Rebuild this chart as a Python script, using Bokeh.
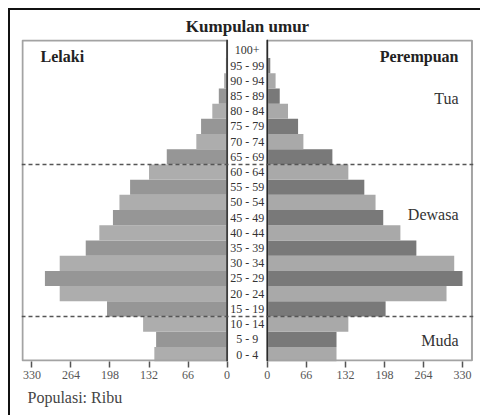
from bokeh.plotting import figure
from bokeh.models import ColumnDataSource, Range1d, FixedTicker, Span, Title
from bokeh.layouts import column
from bokeh.core.properties import value
from bokeh.embed import file_html
from bokeh.resources import INLINE

# ---- data ----
age_groups = ["0 - 4", "5 - 9", "10 - 14", "15 - 19", "20 - 24", "25 - 29", "30 - 34",
              "35 - 39", "40 - 44", "45 - 49", "50 - 54", "55 - 59", "60 - 64", "65 - 69",
              "70 - 74", "75 - 79", "80 - 84", "85 - 89", "90 - 94", "95 - 99", "100+"]
male = [123, 120, 142, 203, 283, 308, 283, 239, 216, 193, 182, 164, 132, 102,
        52, 44, 25, 14, 5, 2, 0.5]
female = [117, 117, 137, 200, 303, 330, 316, 252, 225, 196, 183, 164, 137, 110,
          61, 52, 35, 21, 14, 5, 1]
tick_values = [0, 66, 132, 198, 264, 330]
group_bounds = [2.5, 12.5]   # between 10-14/15-19 and 60-64/65-69
group_names = ["Muda", "Dewasa", "Tua"]
title_text = "Kumpulan umur"
left_name = "Lelaki"
right_name = "Perempuan"
unit_text = "Populasi: Ribu"

SERIF = "Liberation Serif"
H = 34  # half-width of the central label column, in data units

idx = list(range(len(age_groups)))
left_light, left_dark = "#adadad", "#969696"
right_light, right_dark = "#a9a9a9", "#797979"

src_m = ColumnDataSource(dict(
    y=idx, left=[-H - v for v in male], right=[-H] * len(male),
    color=[left_dark if i % 2 else left_light for i in idx]))
src_f = ColumnDataSource(dict(
    y=idx, left=[H] * len(female), right=[H + v for v in female],
    color=[right_dark if i % 2 else right_light for i in idx]))

p = figure(width=470, height=405, output_backend="svg", toolbar_location=None,
           x_range=Range1d(-381.6, 382.6), y_range=Range1d(-0.46, 20.72),
           y_axis_location=None, min_border_left=11, min_border_right=7,
           min_border_top=29, min_border_bottom=54)
p.outline_line_color = None
p.xgrid.visible = False
p.ygrid.visible = False
p.background_fill_color = "white"

p.hbar(y="y", left="left", right="right", height=1.0, color="color",
       line_color=None, source=src_m)
p.hbar(y="y", left="left", right="right", height=1.0, color="color",
       line_color=None, source=src_f)

# panel borders
p.quad(left=[-379.9, H], right=[-H, 380.0], bottom=[-0.395, -0.395], top=[20.66, 20.66],
       fill_color=None, line_color="#a3a3a3", line_width=2)

# center column edges
for loc in (-H, H):
    p.add_layout(Span(location=loc, dimension="height", line_color="#2a2a2a", line_width=1.5))

# group separators
for b in group_bounds:
    p.add_layout(Span(location=b, dimension="width", line_color="#555555",
                      line_width=1.5, line_dash="4 3"))

# age labels
p.text(x=[0] * len(age_groups), y=idx, text=age_groups, text_align="center",
       text_baseline="middle", text_font=value(SERIF), text_font_size="12px",
       text_color="#333333")

# panel names
p.text(x=[-349.4], y=[19.6], text=[left_name], text_align="left", text_baseline="middle",
       text_font=value(SERIF), text_font_size="16px", text_font_style="bold",
       text_color="#222222")
p.text(x=[357.2], y=[19.6], text=[right_name], text_align="right", text_baseline="middle",
       text_font=value(SERIF), text_font_size="16px", text_font_style="bold",
       text_color="#222222")
# group names
p.text(x=[357.2] * 3, y=[0.92, 9.2, 16.84], text=group_names, text_align="right",
       text_baseline="middle", text_font=value(SERIF), text_font_size="16px",
       text_color="#333333")

# x axis with mirrored ticks
ticks = [-H - t for t in tick_values] + [H + t for t in tick_values]
p.xaxis.ticker = FixedTicker(ticks=ticks)
p.xaxis.major_label_overrides = {**{-H - t: str(t) for t in tick_values},
                                 **{H + t: str(t) for t in tick_values}}
p.xaxis.axis_line_color = None
p.xaxis.major_tick_line_color = "#555555"
p.xaxis.major_tick_line_width = 1.5
p.xaxis.major_tick_out = 6
p.xaxis.major_tick_in = 0
p.xaxis.minor_tick_line_color = None
p.xaxis.major_label_standoff = 3
p.xaxis.major_label_text_font = SERIF
p.xaxis.major_label_text_font_size = "12px"
p.xaxis.major_label_text_color = "#555555"

p.title.text = title_text
p.title.align = "center"
p.title.standoff = 8
p.title.text_font = SERIF
p.title.text_font_size = "17px"
p.title.text_font_style = "bold"
p.title.text_color = "#222222"

p.add_layout(Title(text=unit_text, align="left", offset=6, standoff=11, text_font=SERIF,
                   text_font_size="16px", text_font_style="normal",
                   text_color="#444444"), "below")

layout = column(p, styles={"margin-left": "8px", "margin-top": "8px",
                           "border-left": "2px solid #111111",
                           "border-top": "2px solid #111111"})

open("out.html", "w").write(file_html(layout, INLINE))
